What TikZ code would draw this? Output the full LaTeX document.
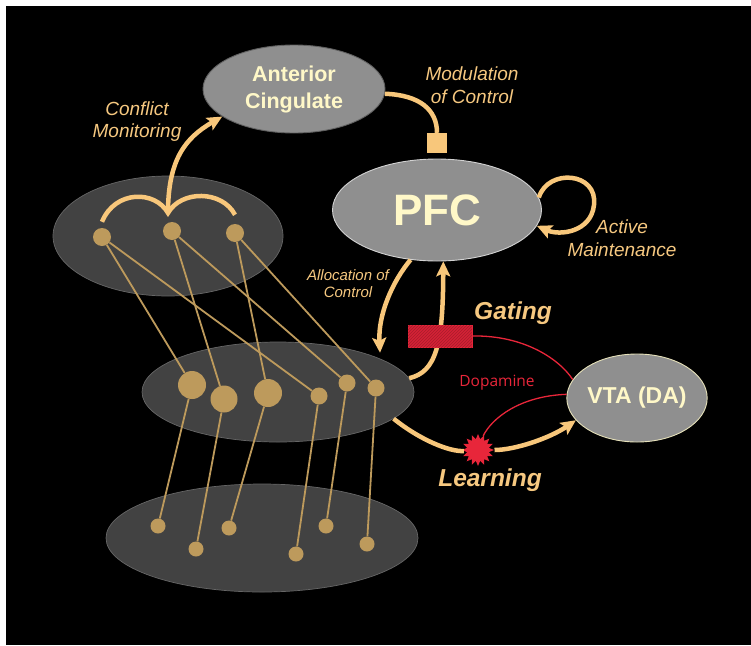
\documentclass[tikz,border=0pt]{standalone}
\usepackage{fontspec}
\setmainfont{Liberation Sans}
\newfontfamily\dopafont{Open Sans}
\usetikzlibrary{shapes.geometric,arrows.meta,patterns}
\definecolor{floworange}{HTML}{F8C77B}
\definecolor{labelc}{HTML}{F6C880}
\definecolor{cream}{HTML}{FFF8C8}
\definecolor{cellbrown}{HTML}{BD9A5C}
\definecolor{sheetgray}{HTML}{424242}
\definecolor{areagray}{HTML}{8F8F8F}
\definecolor{dared}{HTML}{E8263A}
\definecolor{gatered}{HTML}{D42236}
\begin{document}
\begin{tikzpicture}[x=1pt,y=-1pt,
  sheet/.style={ellipse,fill=sheetgray,draw=gray!80!black,line width=0.7pt,inner sep=0},
  area/.style={ellipse,fill=areagray,line width=0.9pt,inner sep=0,text=cream,align=center},
  cell/.style={circle,fill=cellbrown,inner sep=0,minimum size=#1},
  cell/.default=18pt,
  wire/.style={draw=cellbrown,line width=1.8pt},
  flowline/.style={draw=floworange,line width=4.5pt},
  flow/.style={flowline,-{Stealth[length=15pt,width=14pt,inset=3pt]}},
  lbl/.style={text=labelc,align=center},
  big/.style={text=labelc,font=\bfseries\itshape\fontsize{24.5}{28}\selectfont},
  dopa/.style={draw=dared,line width=1.3pt}]
\useasboundingbox (0,0) rectangle (751,645);
\fill[white] (0,0) rectangle (751,645);
\fill[black] (6,6) rectangle (751,645);
\node[sheet,minimum width=230pt,minimum height=120pt] (upper) at (168,236) {};
\node[sheet,minimum width=272pt,minimum height=100pt] (middle) at (278,392) {};
\node[sheet,minimum width=312pt,minimum height=108pt] (lower) at (262,538) {};
\node[cell] (t1) at (102,237) {};
\node[cell] (t2) at (172,231) {};
\node[cell] (t3) at (235,233) {};
\node[cell=28pt] (m1) at (192,385) {};
\node[cell=27pt] (m2) at (224,399) {};
\node[cell=28pt] (m3) at (268,393) {};
\node[cell=17pt] (m4) at (319,396) {};
\node[cell=17pt] (m5) at (347,383) {};
\node[cell=17pt] (m6) at (376,388) {};
\node[cell=15pt] (b1) at (158,526) {};
\node[cell=15pt] (b2) at (196,549) {};
\node[cell=15pt] (b3) at (229,528) {};
\node[cell=15pt] (b4) at (296,554) {};
\node[cell=15pt] (b5) at (326,526) {};
\node[cell=15pt] (b6) at (367,544) {};
\foreach \a/\b in {t1/m1,t1/m4,t2/m2,t2/m5,t3/m3,t3/m6,m1/b1,m2/b2,m3/b3,m4/b4,m5/b5,m6/b6}
  \draw[wire] (\a) -- (\b);
\node[area,draw=gray!75!black,minimum width=182pt,minimum height=88pt,font=\bfseries\fontsize{21.5}{27}\selectfont] (ac) at (294,89) {Anterior\\Cingulate};
\node[area,draw=gray!35,minimum width=209pt,minimum height=102pt,font=\bfseries\fontsize{44}{48}\selectfont] (pfc) at (437,210) {PFC};
\node[area,draw=cream!80!gray,minimum width=134pt,minimum height=88pt,font=\bfseries\fontsize{23}{26}\selectfont] (vta) at (637,398) {VTA (DA)};
\node[fill=floworange,minimum size=20pt,inner sep=0] (mod) at (437,143) {};
\coordinate (join) at (168,213);
\draw[flowline] ([yshift=6pt]t1.north) .. controls (115,190) and (155,190) .. (join) .. controls (181,190) and (222,190) .. ([yshift=9pt]t3.north);
\draw[flow] (join) .. controls (168,160) and (185,138) .. (ac.201);
\draw[flowline] (ac.-3) .. controls (420,95) and (437,110) .. (mod.north);
\draw[flow] (pfc.7) .. controls (548,168) and (598,172) .. (594,205) .. controls (591,232) and (560,236) .. (pfc.-9);
\draw[flow,shorten >=6pt] (pfc.-118) .. controls (392,282) and (378,315) .. (middle.18);
\draw[flow] (middle.6) .. controls (436,372) and (443,345) .. (pfc.-83);
\node[draw=dared,fill=gatered,postaction={pattern=north east lines,pattern color=gatered!80!black},minimum width=64pt,minimum height=22pt,inner sep=0] (gate) at (440,336) {};
\node[star,star points=16,star point ratio=1.45,fill=dared,minimum size=32pt,inner sep=0] (burst) at (478,450) {};
\draw[flowline] (middle.-13) .. controls (420,440) and (450,452) .. (burst);
\draw[flow] (burst) .. controls (515,450) and (550,438) .. (vta.-160);
\draw[dopa] (gate.east) .. controls (525,335) and (560,360) .. (vta.164);
\draw[dopa] (vta.177) .. controls (520,396) and (492,418) .. (burst.70);
\node[lbl,font=\itshape\fontsize{19}{22}\selectfont] (conflict) at (137,122) {Conflict\\Monitoring};
\node[lbl,font=\itshape\fontsize{19}{23}\selectfont] (modlbl) at (472,85) {Modulation\\of Control};
\node[lbl,font=\itshape\fontsize{19}{23}\selectfont] (active) at (622,238) {Active\\Maintenance};
\node[lbl,font=\itshape\fontsize{15}{17}\selectfont] (alloc) at (348,284) {Allocation of\\Control};
\node[big] (gating) at (513,313) {Gating};
\node[big] (learning) at (490,480) {Learning};
\node[text=dared,font=\dopafont\fontsize{15.5}{18}\selectfont] (dopamine) at (497,383) {Dopamine};
\end{tikzpicture}
\end{document}
